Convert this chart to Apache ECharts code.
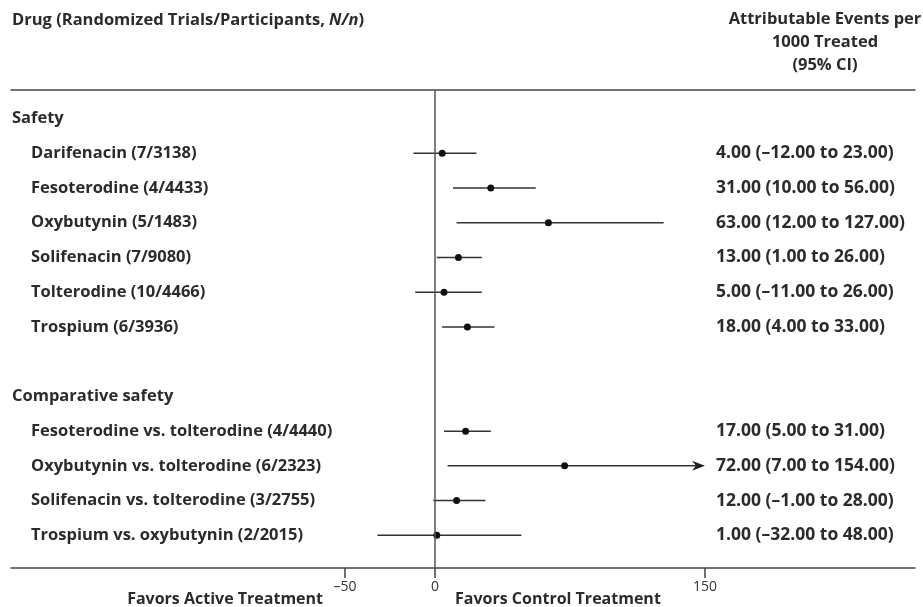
<!DOCTYPE html>
<html>
<head>
<meta charset="utf-8">
<script src="https://cdn.jsdelivr.net/npm/echarts@6/dist/echarts.min.js"></script>
<style>
  html, body { margin: 0; padding: 0; background: #fff; }
  #chart { width: 923px; height: 607px; }
</style>
</head>
<body>
<div id="chart"></div>
<script>
// Section titles
const sectionTitles = ["Safety", "Comparative safety"];

// Safety section
const safetyDrugs = [
  "Darifenacin (7/3138)",
  "Fesoterodine (4/4433)",
  "Oxybutynin (5/1483)",
  "Solifenacin (7/9080)",
  "Tolterodine (10/4466)",
  "Trospium (6/3936)"
];
const safetyEst = [4, 31, 63, 13, 5, 18];
const safetyLow = [-12, 10, 12, 1, -11, 4];
const safetyHigh = [23, 56, 127, 26, 26, 33];

// Comparative safety section
const compDrugs = [
  "Fesoterodine vs. tolterodine (4/4440)",
  "Oxybutynin vs. tolterodine (6/2323)",
  "Solifenacin vs. tolterodine (3/2755)",
  "Trospium vs. oxybutynin (2/2015)"
];
const compEst = [17, 72, 12, 1];
const compLow = [5, 7, -1, -32];
const compHigh = [31, 154, 28, 48];

// Axis
const xTicks = [-50, 0, 150];
const xMin = -235.6;
const xMax = 266.7;
const clipMax = 150;

const FONT = "'Open Sans', 'DejaVu Sans', sans-serif";
const TEXT_COLOR = "#2b2b2b";
const LABEL_SIZE = 16.5;
const VALUE_SIZE = 17.5;

function fmt(v) {
  return (v < 0 ? "\u2013" + Math.abs(v).toFixed(2) : v.toFixed(2));
}

// Build row list: [row, kind, label, est, low, high]
const rows = [];
rows.push([0, "title", sectionTitles[0]]);
safetyDrugs.forEach(function (d, i) {
  rows.push([1 + i, "item", d, safetyEst[i], safetyLow[i], safetyHigh[i]]);
});
rows.push([8, "title", sectionTitles[1]]);
compDrugs.forEach(function (d, i) {
  rows.push([9 + i, "item", d, compEst[i], compLow[i], compHigh[i]]);
});

const ciRows = rows.filter(function (r) { return r[1] === "item"; });

const chart = echarts.init(document.getElementById("chart"));

const option = {
  animation: false,
  backgroundColor: "#fff",
  textStyle: { fontFamily: FONT },
  grid: { left: 11, right: 8, top: 90, bottom: 39 },
  xAxis: [
    {
      type: "value",
      position: "bottom",
      min: xMin,
      max: xMax,
      splitLine: { show: false },
      axisLine: { show: true, onZero: false, lineStyle: { color: "#444", width: 1.5 } },
      axisTick: {
        show: true,
        customValues: xTicks,
        length: 10,
        lineStyle: { color: "#444", width: 1.5 }
      },
      axisLabel: {
        customValues: xTicks,
        margin: 12,
        color: "#333",
        fontSize: 14,
        fontFamily: FONT,
        formatter: function (v) {
          return v < 0 ? "\u2013" + Math.abs(v) : String(v);
        }
      }
    },
    {
      type: "value",
      position: "top",
      min: xMin,
      max: xMax,
      splitLine: { show: false },
      axisLine: { show: true, onZero: false, lineStyle: { color: "#444", width: 1.5 } },
      axisTick: { show: false },
      axisLabel: { show: false }
    }
  ],
  yAxis: {
    type: "value",
    inverse: true,
    min: -0.82,
    max: 12.94,
    show: false
  },
  graphic: [
    {
      type: "text",
      x: 12,
      y: 20,
      style: {
        rich: {
          b: { fontFamily: FONT, fontSize: LABEL_SIZE, fontWeight: "bold", fill: TEXT_COLOR },
          i: { fontFamily: FONT, fontSize: LABEL_SIZE, fontWeight: "bold", fontStyle: "italic", fill: TEXT_COLOR }
        },
        verticalAlign: "middle",
        text: "{b|Drug (Randomized Trials/Participants, }{i|N/n}{b|)}"
      }
    },
    {
      type: "text",
      x: 825,
      y: 8,
      style: {
        text: "Attributable Events per\n1000 Treated\n(95% CI)",
        align: "center",
        fontFamily: FONT,
        fontSize: LABEL_SIZE,
        fontWeight: "bold",
        lineHeight: 23,
        fill: TEXT_COLOR
      }
    },
    {
      type: "text",
      x: 323,
      y: 599,
      style: {
        text: "Favors Active Treatment",
        align: "right",
        verticalAlign: "middle",
        fontFamily: FONT,
        fontSize: 16,
        fontWeight: "bold",
        fill: TEXT_COLOR
      }
    },
    {
      type: "text",
      x: 455,
      y: 599,
      style: {
        text: "Favors Control Treatment",
        align: "left",
        verticalAlign: "middle",
        fontFamily: FONT,
        fontSize: 16,
        fontWeight: "bold",
        fill: TEXT_COLOR
      }
    }
  ],
  series: [
    {
      // row labels and right-hand values
      type: "custom",
      data: rows.map(function (r) { return [0, r[0]]; }),
      encode: { x: 0, y: 1 },
      silent: true,
      clip: false,
      renderItem: function (params, api) {
        const r = rows[params.dataIndex];
        const y = api.coord([0, r[0]])[1];
        const children = [];
        if (r[1] === "title") {
          children.push({
            type: "text",
            style: {
              x: 12, y: y, text: r[2], verticalAlign: "middle",
              fontFamily: FONT, fontSize: LABEL_SIZE, fontWeight: "bold", fill: TEXT_COLOR
            }
          });
        } else {
          children.push({
            type: "text",
            style: {
              x: 31, y: y, text: r[2], verticalAlign: "middle",
              fontFamily: FONT, fontSize: LABEL_SIZE, fontWeight: "bold", fill: TEXT_COLOR
            }
          });
          children.push({
            type: "text",
            style: {
              x: 716, y: y,
              text: fmt(r[3]) + " (" + fmt(r[4]) + " to " + fmt(r[5]) + ")",
              verticalAlign: "middle",
              fontFamily: FONT, fontSize: VALUE_SIZE, fontWeight: "bold", fill: TEXT_COLOR
            }
          });
        }
        return { type: "group", children: children };
      }
    },
    {
      // confidence intervals and point estimates
      type: "custom",
      data: ciRows.map(function (r) { return [r[3], r[0], r[4], r[5]]; }),
      encode: { x: 0, y: 1 },
      silent: true,
      clip: false,
      renderItem: function (params, api) {
        const row = api.value(1);
        const est = api.value(0);
        const lo = api.value(2);
        const hi = api.value(3);
        const clipped = hi > clipMax;
        const pLo = api.coord([lo, row]);
        const pHi = api.coord([clipped ? clipMax : hi, row]);
        const pEst = api.coord([est, row]);
        const children = [
          {
            type: "line",
            shape: { x1: pLo[0], y1: pLo[1], x2: clipped ? pHi[0] - 6 : pHi[0], y2: pHi[1] },
            style: { stroke: "#333", lineWidth: 1.5 }
          },
          {
            type: "circle",
            shape: { cx: pEst[0], cy: pEst[1], r: 3.5 },
            style: { fill: "#111" }
          }
        ];
        if (clipped) {
          const tx = pHi[0], ty = pHi[1];
          children.push({
            type: "polygon",
            shape: { points: [[tx, ty], [tx - 13, ty - 5], [tx - 9, ty], [tx - 13, ty + 5]] },
            style: { fill: "#222" }
          });
        }
        return { type: "group", children: children };
      },
      markLine: {
        silent: true,
        symbol: "none",
        label: { show: false },
        lineStyle: { color: "#555", width: 1.5, type: "solid" },
        data: [{ xAxis: 0 }]
      }
    }
  ]
};

chart.setOption(option);
</script>
</body>
</html>
